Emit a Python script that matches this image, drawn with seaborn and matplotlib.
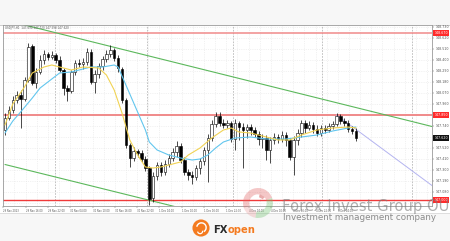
import numpy as np
import matplotlib
matplotlib.use("Agg")
import matplotlib.pyplot as plt
import matplotlib.transforms as mtransforms
from matplotlib.patches import Rectangle, Circle, Wedge
import seaborn as sns

# ---------------- data ----------------
symbol_text = "USDJPY,H1  147.690 147.720 147.590 147.620"
time_labels = ["29 Nov 2023", "29 Nov 16:00", "29 Nov 22:00", "30 Nov 04:00",
               "30 Nov 10:00", "30 Nov 16:00", "30 Nov 22:00", "1 Dec 04:00",
               "1 Dec 10:00", "1 Dec 16:00", "1 Dec 22:00", "4 Dec 04:00",
               "4 Dec 10:00", "4 Dec 16:00", "4 Dec 22:00", "5 Dec 04:00"]

opens = [147.70, 147.82, 147.90, 148.00, 148.05, 148.01, 148.20, 148.54, 148.17, 148.28,
         148.40, 148.46, 148.43, 148.45, 148.40, 148.30, 148.12, 148.09, 148.28, 148.37,
         148.36, 148.38, 148.48, 148.18, 148.26, 148.34, 148.41, 148.46, 148.50, 148.42,
         148.31, 148.00, 147.55, 147.42, 147.49, 147.47, 147.41, 147.32, 147.02, 147.24,
         147.35, 147.28, 147.36, 147.42, 147.48, 147.54, 147.40, 147.28, 147.25, 147.23,
         147.32, 147.39, 147.50, 147.62, 147.76, 147.84, 147.77, 147.75, 147.77, 147.61,
         147.77, 147.73, 147.70, 147.73, 147.70, 147.66, 147.61, 147.62, 147.50, 147.60,
         147.63, 147.61, 147.65, 147.60, 147.43, 147.60, 147.67, 147.77, 147.72, 147.75,
         147.71, 147.67, 147.72, 147.70, 147.74, 147.76, 147.84, 147.79, 147.77, 147.71,
         147.69]
highs = [147.87, 147.94, 148.04, 148.09, 148.10, 148.23, 148.57, 148.56, 148.32, 148.45,
         148.50, 148.48, 148.49, 148.47, 148.44, 148.32, 148.15, 148.30, 148.40, 148.41,
         148.42, 148.52, 148.51, 148.30, 148.37, 148.44, 148.50, 148.55, 148.52, 148.45,
         148.33, 148.02, 147.57, 147.53, 147.51, 147.50, 147.44, 147.34, 147.28, 147.38,
         147.38, 147.40, 147.46, 147.52, 147.59, 147.57, 147.43, 147.31, 147.29, 147.35,
         147.42, 147.53, 147.66, 147.80, 147.88, 147.88, 147.81, 147.80, 147.79, 147.81,
         147.79, 147.77, 147.76, 147.76, 147.73, 147.69, 147.66, 147.65, 147.63, 147.67,
         147.66, 147.69, 147.68, 147.62, 147.64, 147.71, 147.80, 147.80, 147.79, 147.78,
         147.75, 147.75, 147.75, 147.77, 147.79, 147.87, 147.86, 147.82, 147.80, 147.74,
         147.72]
lows = [147.65, 147.80, 147.87, 147.97, 147.72, 147.99, 148.18, 148.15, 148.12, 148.26,
        148.36, 148.40, 148.41, 148.37, 148.28, 148.05, 147.99, 148.07, 148.25, 148.33,
        148.31, 148.35, 148.16, 148.07, 148.22, 148.30, 148.38, 148.43, 148.39, 148.28,
        147.97, 147.52, 147.33, 147.39, 147.43, 147.38, 147.29, 146.95, 146.98, 147.20,
        147.24, 147.25, 147.33, 147.39, 147.43, 147.37, 147.25, 147.20, 147.16, 147.20,
        147.26, 147.35, 147.18, 147.59, 147.73, 147.74, 147.72, 147.72, 147.58, 147.50,
        147.60, 147.32, 147.62, 147.65, 147.63, 147.55, 147.52, 147.40, 147.37, 147.56,
        147.57, 147.58, 147.54, 147.40, 147.25, 147.55, 147.63, 147.67, 147.70, 147.67,
        147.64, 147.64, 147.67, 147.68, 147.71, 147.74, 147.76, 147.74, 147.68, 147.66,
        147.59]
closes = [147.82, 147.90, 148.00, 148.05, 148.01, 148.20, 148.53, 148.17, 148.28, 148.40,
          148.46, 148.43, 148.45, 148.40, 148.30, 148.12, 148.09, 148.28, 148.37, 148.36,
          148.38, 148.48, 148.18, 148.26, 148.34, 148.41, 148.46, 148.50, 148.42, 148.32,
          148.00, 147.55, 147.42, 147.49, 147.47, 147.41, 147.32, 147.01, 147.24, 147.35,
          147.28, 147.36, 147.42, 147.48, 147.54, 147.40, 147.28, 147.25, 147.23, 147.32,
          147.39, 147.50, 147.62, 147.76, 147.84, 147.77, 147.75, 147.77, 147.61, 147.77,
          147.73, 147.70, 147.73, 147.70, 147.66, 147.61, 147.62, 147.50, 147.60, 147.63,
          147.61, 147.65, 147.60, 147.43, 147.60, 147.67, 147.77, 147.72, 147.75, 147.71,
          147.67, 147.72, 147.70, 147.74, 147.76, 147.84, 147.79, 147.77, 147.71, 147.69,
          147.62]

fast_ma_idx = [0, 2, 5, 7, 10, 12, 15, 17, 20, 24, 26, 28, 30, 32, 34, 36, 38, 40, 42, 45,
               47, 50, 53, 56, 58, 60, 63, 67, 70, 73, 76, 80, 84, 88, 90]
fast_ma = [147.75, 147.96, 148.13, 148.27, 148.33, 148.35, 148.32, 148.30, 148.33, 148.32,
           148.25, 148.10, 147.87, 147.60, 147.45, 147.33, 147.32, 147.33, 147.35, 147.38,
           147.45, 147.52, 147.62, 147.70, 147.72, 147.68, 147.67, 147.63, 147.60, 147.60,
           147.65, 147.70, 147.72, 147.73, 147.72]
slow_ma_idx = [0, 2, 4, 7, 9, 12, 14, 17, 19, 22, 25, 28, 29, 31, 34, 36, 37, 39, 42, 45,
               48, 50, 52, 54, 56, 59, 63, 67, 72, 76, 80, 84, 88, 90]
slow_ma = [147.67, 147.79, 147.88, 148.02, 148.12, 148.21, 148.27, 148.28, 148.30, 148.33,
           148.33, 148.35, 148.33, 148.15, 147.88, 147.70, 147.58, 147.50, 147.45, 147.42,
           147.40, 147.41, 147.45, 147.52, 147.58, 147.62, 147.63, 147.61, 147.61, 147.63,
           147.65, 147.69, 147.72, 147.73]

channel_upper_idx = [4, 110]
channel_upper = [148.76, 147.73]
channel_lower_idx = [0, 44]
channel_lower = [147.355, 146.93]
projection_idx = [85, 110]
projection = [147.85, 147.13]

level_lines = [148.67, 147.85, 147.00]
current_price = 147.62
price_ticks = [148.73, 148.62, 148.51, 148.40, 148.29, 148.18, 148.07, 147.96, 147.85,
               147.74, 147.63, 147.52, 147.41, 147.30, 147.19, 147.08, 146.97]

watermark_title = "Forex Invest Group OU"
watermark_sub = "Investment management company"

# ---------------- layout helpers ----------------
W, H = 450, 241
def fx(x):
    return x / W
def fy(y):
    return 1 - y / H
def px_to_idx(x):
    return (x - 5.0) / 3.9

sns.set_style("white")
plt.rcParams["font.family"] = ["DejaVu Sans"]

fig = plt.figure(figsize=(W / 100, H / 100), dpi=100, facecolor="#f7f7f7")
fig.patches.append(Rectangle((0, fy(213)), 1, (213 - 25) / H, transform=fig.transFigure,
                             fc="white", ec="none", zorder=-2))
fig.patches.append(Rectangle((0, fy(25.5)), 1, 0.6 / H, transform=fig.transFigure,
                             fc="#cfcfcf", ec="none", zorder=-1))
fig.patches.append(Rectangle((0, fy(213.5)), 1, 0.8 / H, transform=fig.transFigure,
                             fc="#dedede", ec="none", zorder=-1))

ax = fig.add_axes([fx(3), fy(206), (432 - 3) / W, (206 - 25) / H])
ax.set_facecolor("white")
ax.set_xlim(px_to_idx(3), px_to_idx(432))
ax.set_ylim(146.94, 148.75)

# grid
for k in range(0, 40):
    xg = px_to_idx(3.3 + 11.15 * k)
    if xg > px_to_idx(432):
        break
    ax.axvline(xg, color="#e6e6e6", lw=0.4, ls=(0, (2, 2)), zorder=0)
for xs in [55, 147, 233, 322, 412]:
    ax.axvline(px_to_idx(xs), color="#b8b8b8", lw=0.6, ls=(0, (2, 1.5)), zorder=0.5)
for p in price_ticks:
    ax.axhline(p, color="#e6e6e6", lw=0.4, ls=(0, (2, 2)), zorder=0)

# channel, projection and level lines
sns.lineplot(x=channel_upper_idx, y=channel_upper, ax=ax, color="#5cb85c", lw=0.8, zorder=2)
sns.lineplot(x=channel_lower_idx, y=channel_lower, ax=ax, color="#5cb85c", lw=0.8, zorder=2)
sns.lineplot(x=projection_idx, y=projection, ax=ax, color="#b4b4f0", lw=0.7, zorder=2)
ax.axhline(level_lines[0], color="#f08a8a", lw=1.1, zorder=1.5)
ax.axhline(level_lines[1], color="#f08a8a", lw=1.4, zorder=1.5)
ax.axhline(level_lines[2], color="#f03a3a", lw=1.0, zorder=1.5)

# candles
o = np.array(opens); c = np.array(closes); hi = np.array(highs); lo = np.array(lows)
idx = np.arange(len(o))
ax.vlines(idx, lo, hi, color="black", lw=0.5, zorder=3)
bottoms = np.minimum(o, c)
heights = np.maximum(np.abs(c - o), 0.004)
body_colors = ["white" if cc >= oo else "black" for oo, cc in zip(o, c)]
ax.bar(idx, heights, bottom=bottoms, width=0.62, color=body_colors,
       edgecolor="black", linewidth=0.4, zorder=4)

# moving averages
sns.lineplot(x=slow_ma_idx, y=slow_ma, ax=ax, color="#62c6ee", lw=0.8, zorder=5)
sns.lineplot(x=fast_ma_idx, y=fast_ma, ax=ax, color="#f1d354", lw=0.8, zorder=5)

# axes styling
for s in ax.spines.values():
    s.set_color("#9a9a9a")
    s.set_linewidth(0.6)
ax.yaxis.tick_right()
specials = level_lines + [current_price]
ax.set_yticks(price_ticks)
ax.set_yticklabels(["" if min(abs(p - s) for s in specials) < 0.045 else f"{p:.3f}"
                    for p in price_ticks])
ax.tick_params(axis="y", labelsize=2.3, length=1.2, width=0.3, pad=1.2,
               colors="#555555", right=True, left=False)
label_pos = [px_to_idx(3.3 + 22.3 * k) for k in range(len(time_labels))]
ax.set_xticks(label_pos)
ax.set_xticklabels(time_labels, ha="left")
ax.tick_params(axis="x", labelsize=1.8, length=1.2, width=0.3, pad=0.8,
               colors="#555555", bottom=True)
ax.set_xlabel(""); ax.set_ylabel("")
ax.grid(False)

trans = mtransforms.blended_transform_factory(ax.transAxes, ax.transData)
for lv in level_lines:
    ax.text(1.006, lv, f"{lv:.3f}", transform=trans, fontsize=2.3, color="white",
            va="center", ha="left", clip_on=False, zorder=6,
            bbox=dict(boxstyle="square,pad=0.35", fc="#ff2a2a", ec="none"))
ax.text(1.006, current_price, f"{current_price:.3f}", transform=trans, fontsize=2.3,
        color="white", va="center", ha="left", clip_on=False, zorder=6,
        bbox=dict(boxstyle="square,pad=0.35", fc="#111111", ec="none"))
ax.text(0.005, 0.997, symbol_text, transform=ax.transAxes, fontsize=2.0,
        color="#555555", va="top", ha="left", zorder=6)

# faded circular logo
lax = fig.add_axes([fx(243), fy(218), 30 / W, 30 / H])
lax.set_xlim(-1, 1); lax.set_ylim(-1, 1); lax.axis("off")
lax.add_patch(Wedge((0, 0), 1.0, 20, 200, width=0.42, fc="#e06060", ec="none", alpha=0.35))
lax.add_patch(Wedge((0, 0), 1.0, 200, 260, width=0.42, fc="#e9a0a0", ec="none", alpha=0.35))
lax.add_patch(Wedge((0, 0), 1.0, 260, 380, width=0.42, fc="#6cc06c", ec="none", alpha=0.35))
lax.add_patch(Wedge((0, 0), 0.58, 40, 80, width=0.2, fc="#cc3030", ec="none", alpha=0.4))

# watermark
fig.text(fx(282), fy(211), watermark_title, fontsize=10.6, family="Liberation Sans Narrow",
         color="#7a7a7a", alpha=0.6, ha="left", va="baseline", zorder=10)
fig.text(fx(283), fy(220.5), watermark_sub, fontsize=6.3, color="#8c8c8c",
         ha="left", va="baseline", zorder=10)

# FXopen logo
eax = fig.add_axes([fx(192), fy(237), 18 / W, 18 / H])
eax.set_xlim(-1, 1); eax.set_ylim(-1, 1); eax.axis("off")
eax.add_patch(Circle((0, 0), 0.95, fc="#f47b20", ec="none"))
eax.add_patch(Wedge((0.05, 0.05), 0.6, 300, 170, width=0.16, fc="white", ec="none"))
eax.add_patch(Wedge((-0.1, -0.35), 0.35, 190, 10, width=0.14, fc="white", ec="none"))
t1 = fig.text(fx(213), fy(233), "FX", fontsize=7.2, weight="bold", color="#2b2b2b",
              ha="left", va="baseline")
fig.canvas.draw()
bb = t1.get_window_extent()
fig.text(bb.x1 / W + 0.001, fy(233), "open", fontsize=7.2, weight="bold", color="#f47b20",
         ha="left", va="baseline")

fig.savefig("out.png", dpi=100, facecolor=fig.get_facecolor())
